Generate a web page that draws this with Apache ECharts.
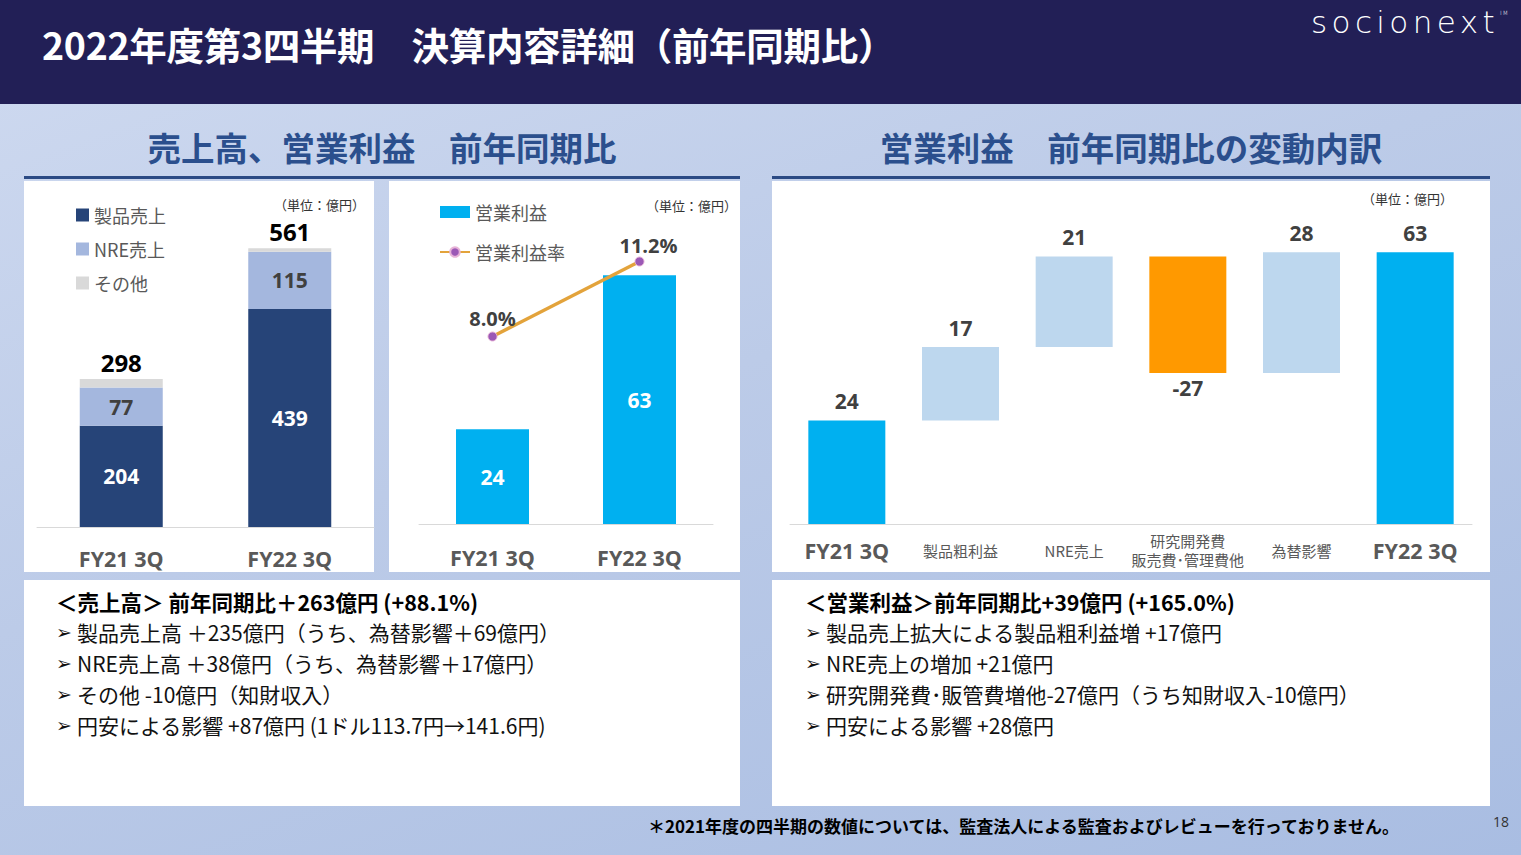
<!DOCTYPE html>
<html>
<head>
<meta charset="utf-8">
<script src="https://cdn.jsdelivr.net/npm/echarts@6/dist/echarts.min.js"></script>
<style>
  html, body { margin: 0; padding: 0; }
  body { width: 1521px; height: 855px; overflow: hidden; position: relative;
         font-family: "Noto Sans CJK JP", "Noto Sans", sans-serif; }
  #bg { position: absolute; left: 0; top: 0; width: 1521px; height: 855px;
        background: linear-gradient(160deg, #cfdaf0 0%, #bccbe8 45%, #a9bde2 100%); }
  #header { position: absolute; left: 0; top: 0; width: 1521px; height: 104px; background: #221f56; }
  #title { position: absolute; left: 42px; top: 19px; color: #fff; font-size: 37.5px; font-weight: bold;
           line-height: 50px; white-space: nowrap; letter-spacing: -0.3px; }
  #logo { position: absolute; left: 1311px; top: -8px; color: #fff; font-family: "DejaVu Sans", Lato, sans-serif;
          font-weight: 200; font-size: 31px; letter-spacing: 4.4px; line-height: 42px; white-space: nowrap; }
  #logo sup { font-size: 6px; letter-spacing: 0; vertical-align: 18px; }
  .sect { position: absolute; top: 122px; height: 50px; line-height: 50px; text-align: center;
          color: #2b4f8d; font-size: 33.5px; font-weight: bold; white-space: nowrap; }
  .rule { position: absolute; top: 176px; height: 3px; background: #2b4a84; }
  .panel { position: absolute; background: #fff; }
  .txt { position: absolute; top: 586px; font-size: 21px; color: #111; white-space: nowrap; }
  .txt > div { height: 31px; line-height: 31px; overflow: visible; }
  .txt .h { font-weight: bold; color: #000; font-size: 21.5px; }
  .txt .b { font-family: "DejaVu Sans", sans-serif; font-size: 19px; display: inline-block; width: 21px;
            line-height: 31px; vertical-align: top; }
  .unit { position: absolute; font-size: 13px; color: #333; white-space: nowrap; line-height: 16px; }
  #foot { position: absolute; left: 648px; top: 813px; font-size: 17px; font-weight: bold; color: #000; white-space: nowrap; line-height: 26px; }
  #page { position: absolute; left: 1493px; top: 812px; font-size: 14px; color: #333; font-family: "Open Sans", sans-serif; }
  #chart { position: absolute; left: 0; top: 0; width: 1521px; height: 855px; }
</style>
</head>
<body>
<div id="bg"></div>
<div id="header"></div>
<div id="title">2022年度第3四半期　決算内容詳細（前年同期比）</div>
<div id="logo">socionext<sup>TM</sup></div>

<div class="sect" style="left:24px;width:716px;">売上高、営業利益　前年同期比</div>
<div class="sect" style="left:772px;width:718px;">営業利益　前年同期比の変動内訳</div>
<div class="rule" style="left:24px;width:716px;"></div>
<div class="rule" style="left:772px;width:718px;"></div>

<div class="panel" style="left:24px;top:181px;width:350px;height:391px;"></div>
<div class="panel" style="left:389px;top:181px;width:351px;height:391px;"></div>
<div class="panel" style="left:772px;top:181px;width:718px;height:391px;"></div>
<div class="panel" style="left:24px;top:580px;width:716px;height:226px;"></div>
<div class="panel" style="left:772px;top:580px;width:718px;height:226px;"></div>

<div class="unit" style="left:274px;top:197px;">（単位：億円）</div>
<div class="unit" style="left:646px;top:198px;">（単位：億円）</div>
<div class="unit" style="left:1362px;top:191px;">（単位：億円）</div>

<div class="txt" style="left:56px;">
  <div class="h">＜売上高＞ 前年同期比＋263億円 (+88.1%)</div>
  <div><span class="b">➢</span>製品売上高 ＋235億円（うち、為替影響＋69億円）</div>
  <div><span class="b">➢</span>NRE売上高 ＋38億円（うち、為替影響＋17億円）</div>
  <div><span class="b">➢</span>その他 -10億円（知財収入）</div>
  <div><span class="b">➢</span>円安による影響 +87億円 (1ドル113.7円→141.6円)</div>
</div>
<div class="txt" style="left:805px;">
  <div class="h">＜営業利益＞前年同期比+39億円 (+165.0%)</div>
  <div><span class="b">➢</span>製品売上拡大による製品粗利益増 +17億円</div>
  <div><span class="b">➢</span>NRE売上の増加 +21億円</div>
  <div><span class="b">➢</span>研究開発費･販管費増他-27億円（うち知財収入-10億円）</div>
  <div><span class="b">➢</span>円安による影響 +28億円</div>
</div>

<div id="foot">＊2021年度の四半期の数値については、監査法人による監査およびレビューを行っておりません。</div>
<div id="page">18</div>

<div id="chart"></div>

<script>
// ---- data ----
const categories = ['FY21 3Q', 'FY22 3Q'];
const productSales = [204, 439];
const nreSales = [77, 115];
const otherSales = [17, 7];
const salesTotals = [298, 561];

const opIncome = [24, 63];
const opMargin = [8.0, 11.2];

const bridgeCategories = ['FY21 3Q', '製品粗利益', 'NRE売上', '研究開発費\n販売費･管理費他', '為替影響', 'FY22 3Q'];
const bridgeValues = [24, 17, 21, -27, 28, 63];
const bridgeIsTotal = [true, false, false, false, false, true];

// ---- styles ----
const NUMFONT = '"Open Sans", "Noto Sans CJK JP", sans-serif';
const JPFONT = '"Noto Sans CJK JP", sans-serif';
const C_PROD = '#264478';
const C_NRE = '#a4b7de';
const C_OTHER = '#d9d9d9';
const C_CYAN = '#00b0f0';
const C_LIGHT = '#bdd7ee';
const C_NEG = '#ff9900';

// waterfall bases built from values
const wfBase = [], wfHeight = [];
let running = 0;
bridgeValues.forEach((v, i) => {
  if (bridgeIsTotal[i]) { wfBase.push(0); wfHeight.push(v); running = v; }
  else if (v >= 0) { wfBase.push(running); wfHeight.push(v); running += v; }
  else { running += v; wfBase.push(running); wfHeight.push(-v); }
});

const axisLabelBold = { fontSize: 21.5, fontWeight: 'bold', color: '#595959', fontFamily: NUMFONT, verticalAlign: 'middle' };

const chart = echarts.init(document.getElementById('chart'), null, { renderer: 'svg' });
chart.setOption({
  backgroundColor: 'transparent',
  animation: false,
  grid: [
    { left: 37, width: 337, top: 229, height: 298 },
    { left: 419, width: 294, top: 224, height: 300 },
    { left: 790, width: 682, top: 222, height: 302 }
  ],
  legend: [
    {
      orient: 'vertical', left: 71, top: 201, itemWidth: 13, itemHeight: 13, itemGap: 16,
      icon: 'rect',
      textStyle: { fontSize: 18, color: '#595959', fontFamily: JPFONT },
      data: ['製品売上', 'NRE売上', 'その他']
    },
    {
      orient: 'vertical', left: 434, top: 198, itemWidth: 30, itemHeight: 12, itemGap: 22,
      textStyle: { fontSize: 18, color: '#595959', fontFamily: JPFONT },
      data: [{ name: '営業利益', icon: 'rect' }, { name: '営業利益率' }]
    }
  ],
  xAxis: [
    { gridIndex: 0, type: 'category', data: categories,
      axisLine: { lineStyle: { color: '#d9d9d9' } }, axisTick: { show: false },
      axisLabel: Object.assign({ margin: 31 }, axisLabelBold) },
    { gridIndex: 1, type: 'category', data: categories,
      axisLine: { lineStyle: { color: '#d9d9d9' } }, axisTick: { show: false },
      axisLabel: Object.assign({ margin: 33 }, axisLabelBold) },
    { gridIndex: 2, type: 'category', data: bridgeCategories,
      axisLine: { lineStyle: { color: '#d9d9d9' } }, axisTick: { show: false },
      axisLabel: {
        margin: 26, verticalAlign: 'middle', interval: 0,
        formatter: (v, i) => bridgeIsTotal[i] ? '{b|' + v + '}' : v.split('\n').map(s => '{n|' + s + '}').join('\n'),
        rich: {
          b: { fontSize: 21.5, fontWeight: 'bold', color: '#595959', fontFamily: NUMFONT },
          n: { fontSize: 15, color: '#595959', fontFamily: JPFONT, lineHeight: 19 }
        }
      } }
  ],
  yAxis: [
    { gridIndex: 0, type: 'value', min: 0, max: 600, show: false, splitLine: { show: false } },
    { gridIndex: 1, type: 'value', min: 0, max: 76, show: false, splitLine: { show: false } },
    { gridIndex: 1, type: 'value', min: 0, max: 12.8, show: false, splitLine: { show: false } },
    { gridIndex: 2, type: 'value', min: 0, max: 70, show: false, splitLine: { show: false } }
  ],
  series: [
    // chart 1: stacked sales
    { name: '製品売上', type: 'bar', xAxisIndex: 0, yAxisIndex: 0, stack: 'sales', barWidth: 83,
      data: productSales, itemStyle: { color: C_PROD },
      label: { show: true, position: 'inside', color: '#fff', fontSize: 21, fontWeight: 'bold', fontFamily: NUMFONT } },
    { name: 'NRE売上', type: 'bar', xAxisIndex: 0, yAxisIndex: 0, stack: 'sales', barWidth: 83,
      data: nreSales, itemStyle: { color: C_NRE },
      label: { show: true, position: 'inside', color: '#404040', fontSize: 21, fontWeight: 'bold', fontFamily: NUMFONT } },
    { name: 'その他', type: 'bar', xAxisIndex: 0, yAxisIndex: 0, stack: 'sales', barWidth: 83,
      data: otherSales, itemStyle: { color: C_OTHER },
      label: { show: true, position: 'top', distance: 5, color: '#000', fontSize: 24, fontWeight: 'bold', fontFamily: NUMFONT,
               formatter: p => String(salesTotals[p.dataIndex]) } },
    // chart 2: operating income + margin
    { name: '営業利益', type: 'bar', xAxisIndex: 1, yAxisIndex: 1, barWidth: 73,
      data: opIncome, itemStyle: { color: C_CYAN },
      label: { show: true, position: 'inside', color: '#fff', fontSize: 21, fontWeight: 'bold', fontFamily: NUMFONT } },
    { name: '営業利益率', type: 'line', xAxisIndex: 1, yAxisIndex: 2, z: 5,
      data: opMargin.map((v, i) => i === 1 ? { value: v, label: { offset: [9, 2] } } : v),
      symbol: 'circle', symbolSize: 9,
      lineStyle: { color: '#e3a33b', width: 3.5 },
      itemStyle: { color: '#9b59b6', borderColor: '#e8b4d8', borderWidth: 1 },
      label: { show: true, position: 'top', distance: 3, color: '#404040', fontSize: 20, fontWeight: 'bold', fontFamily: NUMFONT,
               formatter: p => p.value.toFixed(1) + '%' } },
    // chart 3: waterfall
    { name: 'base', type: 'bar', xAxisIndex: 2, yAxisIndex: 3, stack: 'wf', barWidth: 77, silent: true,
      data: wfBase, itemStyle: { color: 'transparent' }, label: { show: false } },
    { name: 'delta', type: 'bar', xAxisIndex: 2, yAxisIndex: 3, stack: 'wf', barWidth: 77,
      data: wfHeight.map((h, i) => ({
        value: h,
        itemStyle: { color: bridgeIsTotal[i] ? C_CYAN : (bridgeValues[i] < 0 ? C_NEG : C_LIGHT) },
        label: { position: bridgeValues[i] < 0 ? 'bottom' : 'top', distance: bridgeValues[i] < 0 ? 4 : 9 }
      })),
      label: { show: true, color: '#404040', fontSize: 21, fontWeight: 'bold', fontFamily: NUMFONT,
               formatter: p => String(bridgeValues[p.dataIndex]) } }
  ]
});
</script>
</body>
</html>
